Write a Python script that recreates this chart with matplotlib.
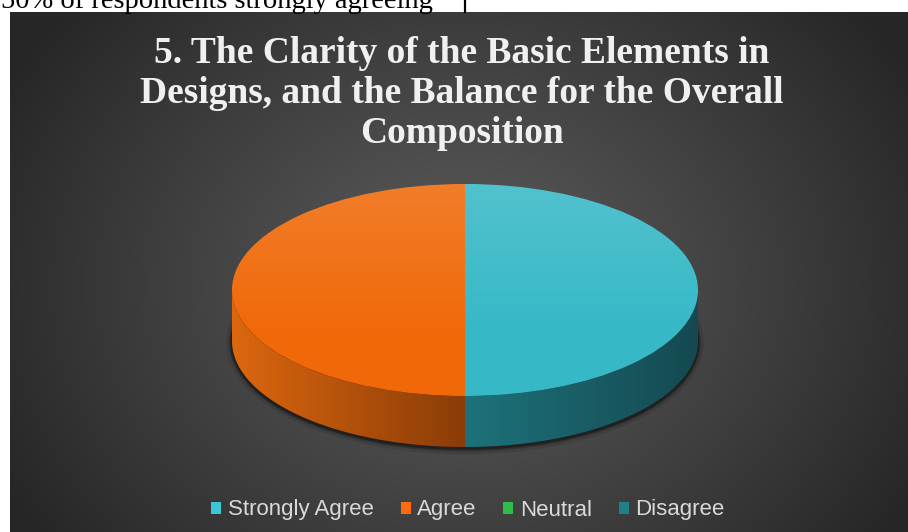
import numpy as np
import matplotlib
matplotlib.use("Agg")
import matplotlib.pyplot as plt
from matplotlib.patches import Polygon, Ellipse, Patch
from matplotlib.colors import to_rgb

# chart data
title_lines = [
    "5. The Clarity of the Basic Elements in",
    "Designs, and the Balance for the Overall",
    "Composition",
]
categories = ["Strongly Agree", "Agree", "Neutral", "Disagree"]
shares = [50, 50, 0, 0]
top_colors = ["#36b8c6", "#f06808", "#2db44a", "#1f7f87"]
legend_colors = ["#3cc6d6", "#ff6a10", "#2ebd4a", "#1f8088"]
# side wall gradient (left end, right end) for each slice
side_left = ["#1d727a", "#dc670f", "#1f8a36", "#175c62"]
side_right = ["#154951", "#8a3c07", "#145a22", "#0f3c40"]

W, H = 908, 532
fig = plt.figure(figsize=(W / 100, H / 100), dpi=100)
fig.patch.set_facecolor("white")

bg = fig.add_axes([0, 0, 1, 1])
bg.set_xlim(0, W)
bg.set_ylim(H, 0)
bg.axis("off")

# dark panel with a soft radial glow
px0, py0 = 10, 12
gx, gy = np.meshgrid(np.arange(px0, W), np.arange(py0, H))
d = np.sqrt(((gx - 462) / 520.0) ** 2 + ((gy - 285) / 430.0) ** 2)
shade = 0.36 - 0.21 * np.clip(d, 0, 1) ** 1.1
panel = np.dstack([shade, shade, shade])
bg.imshow(panel, extent=[px0, W, H, py0], aspect="auto", interpolation="bilinear", zorder=0)

# clipped line of document text above the chart
bg.text(433, 8.5, "50% of respondents strongly agreeing", ha="right", va="baseline",
        fontsize=20.5, family="Liberation Serif", color="black", zorder=1)
bg.plot([465, 465], [0, 12], color="black", lw=1.6, zorder=1)

# title
for i, line in enumerate(title_lines):
    bg.text(462, 63 + 40 * i, line, ha="center", va="baseline", fontsize=27,
            family="Liberation Serif", weight="bold", color="#f0f0f0", zorder=2)

# legend
handles = [Patch(facecolor=c, edgecolor="none") for c in legend_colors]
leg = bg.legend(handles, categories, ncol=4, loc="center", bbox_to_anchor=(468, 510),
                bbox_transform=bg.transData, frameon=False,
                prop={"family": "Liberation Sans", "size": 16},
                handlelength=0.45, handleheight=0.45, handletextpad=0.3,
                columnspacing=1.2, borderaxespad=0)
for t in leg.get_texts():
    t.set_color("#d9d9d9")

# 3-D pie
cx, cy, rx, ry, depth_px = 465, 290, 233, 106, 51
depth = depth_px / ry
left, right, top, bottom = cx - rx - 12, cx + rx + 12, cy - ry - 12, cy + ry + depth_px + 14
ax = fig.add_axes([left / W, 1 - bottom / H, (right - left) / W, (bottom - top) / H])
ax.patch.set_alpha(0)

wedges, _ = ax.pie(shares, colors=top_colors, startangle=90, counterclock=False,
                   radius=1, wedgeprops=dict(linewidth=0))
for w in wedges:
    w.set_zorder(4)

# soft shadow under the pie
for k, a in [(0.05, 0.10), (0.025, 0.2), (0.012, 0.35)]:
    ax.add_patch(Ellipse((0, -depth - 0.015), 2 + k, 2 + 2.2 * k, facecolor="black",
                         edgecolor="none", alpha=a, zorder=1))

# front side walls
for i, w in enumerate(wedges):
    t1, t2 = w.theta1, w.theta2
    for k in (-1, 0, 1):
        a, b = max(t1, -180 + 360 * k), min(t2, 360 * k)
        if b - a <= 0.01:
            continue
        th = np.radians(np.linspace(a, b, 120))
        xs, ys = np.cos(th), np.sin(th)
        pts = np.vstack([np.column_stack([xs, ys]), np.column_stack([xs[::-1], ys[::-1] - depth])])
        poly = Polygon(pts, closed=True, facecolor="none", edgecolor="none", zorder=2)
        ax.add_patch(poly)
        grad = np.linspace(0, 1, 256)[None, :, None]
        cl, cr = np.array(to_rgb(side_left[i])), np.array(to_rgb(side_right[i]))
        img = cl + (cr - cl) * grad
        im = ax.imshow(img, extent=[xs.min(), xs.max(), ys.min() - depth, ys.max()],
                       aspect="auto", interpolation="bilinear", zorder=2)
        im.set_clip_path(poly)

# light sheen on the top face
top_face = Ellipse((0, 0), 2, 2, facecolor="none", edgecolor="none", zorder=5)
ax.add_patch(top_face)
alpha = np.clip(np.linspace(0.14, -0.05, 256), 0, None)
sheen = np.zeros((256, 1, 4))
sheen[:, 0, :3] = 1
sheen[:, 0, 3] = alpha
im = ax.imshow(sheen, extent=[-1, 1, -1, 1], aspect="auto", interpolation="bilinear",
               origin="upper", zorder=5)
im.set_clip_path(top_face)

ax.set_aspect("auto")
ax.set_xlim((left - cx) / rx, (right - cx) / rx)
ax.set_ylim((cy - bottom) / ry, (cy - top) / ry)
ax.axis("off")

fig.savefig("out.png", dpi=100, facecolor="white")
